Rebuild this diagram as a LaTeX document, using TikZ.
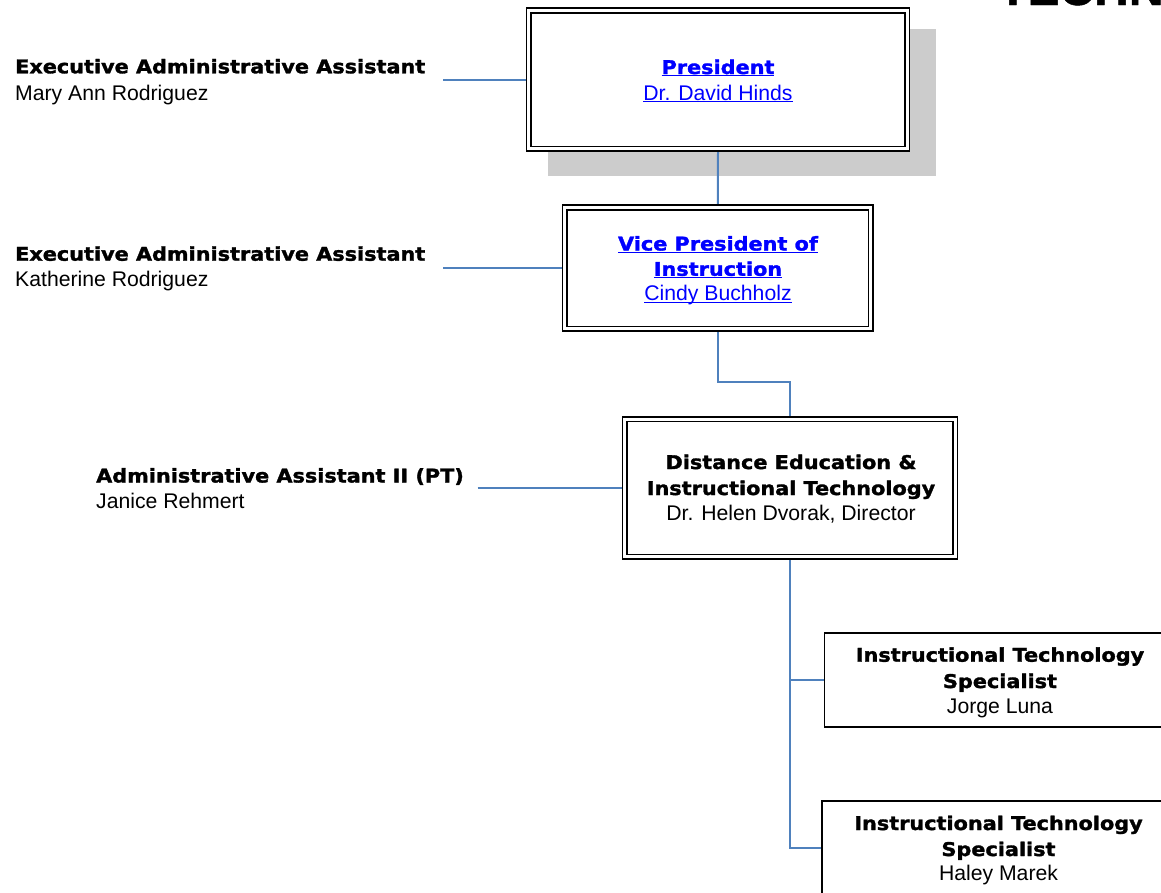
\documentclass[tikz,border=0pt]{standalone}
\usepackage{fontspec}
\setmainfont{Liberation Sans}
\newfontfamily\blk[FakeStretch=1.1,FakeBold=1.6]{DejaVu Sans Bold}
\newfontfamily\ttl[FakeBold=1]{Liberation Sans Bold}
\definecolor{conncol}{RGB}{79,129,189}
\definecolor{linkblue}{RGB}{0,0,255}
\definecolor{shadowgray}{RGB}{204,204,204}
\newsavebox\ulbox
\newcommand\myul[1]{\sbox\ulbox{#1}\rlap{\rule[-2.4pt]{\wd\ulbox}{1.4pt}}\usebox\ulbox}
\newcommand\bt{\blk\fontsize{18.9pt}{22pt}\selectfont}
\newcommand\rt{\fontsize{21.2pt}{25pt}\selectfont}
\pgfdeclarelayer{shadowlayer}
\pgfdeclarelayer{connlayer}
\pgfsetlayers{shadowlayer,connlayer,main}
\begin{document}
\begin{tikzpicture}[x=1pt,y=-1pt,
  conn/.style={draw=conncol, line width=2pt},
  dbox/.style={draw=black, double=white, line width=1.6pt, double distance=3pt, fill=white, inner sep=0pt},
  sbox/.style={draw=black, line width=1.6pt, fill=white, inner sep=0pt},
  bl/.style={font=\bt, anchor=base, inner sep=0pt},
  rl/.style={font=\rt, anchor=base, inner sep=0pt}]
\useasboundingbox (0,0) rectangle (1161,892);

% title (mostly above the page)
\node[anchor=base west, inner sep=0pt, font=\ttl\fontsize{48pt}{50pt}\selectfont] (title) at (998,5) {TECHN};

% shadow
\begin{pgfonlayer}{shadowlayer}
\fill[shadowgray] (548,29.3) rectangle (935.7,176);
\end{pgfonlayer}

% boxes
\node[dbox, minimum width=378.4pt, minimum height=138.5pt] (pres) at (718,79.65) {};
\node[dbox, minimum width=306.1pt, minimum height=121.2pt] (vp) at (717.85,268) {};
\node[dbox, minimum width=330.4pt, minimum height=137.8pt] (dist) at (790,488) {};
\node[sbox, minimum width=351pt, minimum height=94.1pt] (spec1) at (1000,679.85) {};
\node[sbox, minimum width=354pt, minimum height=94.2pt] (spec2) at (999,847.9) {};

% box texts
\node[bl, text=linkblue] (presT) at (718,74) {\myul{President}};
\node[rl, text=linkblue] (presN) at (718,100) {\myul{Dr. David Hinds}};
\node[bl, text=linkblue] (vpT1) at (718,250.5) {\myul{Vice President of}};
\node[bl, text=linkblue] (vpT2) at (718,275.8) {\myul{Instruction}};
\node[rl, text=linkblue] (vpN) at (718,300.5) {\myul{Cindy Buchholz}};
\node[bl] (distT1) at (791,469) {Distance Education \&};
\node[bl] (distT2) at (791,495) {Instructional Technology};
\node[rl] (distN) at (791,520) {Dr. Helen Dvorak, Director};
\node[bl] (s1T1) at (1000,661.7) {Instructional Technology};
\node[bl] (s1T2) at (1000,688) {Specialist};
\node[rl] (s1N) at (1000,713) {Jorge Luna};
\node[bl] (s2T1) at (998.5,830) {Instructional Technology};
\node[bl] (s2T2) at (998.5,856) {Specialist};
\node[rl] (s2N) at (998.5,880.7) {Haley Marek};

% left assistants
\node[bl, anchor=base west] (a1T) at (15,73.3) {Executive Administrative Assistant};
\node[rl, anchor=base west] (a1N) at (15,100) {Mary Ann Rodriguez};
\node[bl, anchor=base west] (a2T) at (15,260.7) {Executive Administrative Assistant};
\node[rl, anchor=base west] (a2N) at (15,286.7) {Katherine Rodriguez};
\node[bl, anchor=base west] (a3T) at (96,482.5) {Administrative Assistant II (PT)};
\node[rl, anchor=base west] (a3N) at (96,508) {Janice Rehmert};

% connectors
\coordinate (c1) at (443,80);
\coordinate (c2) at (443,267.7);
\coordinate (c3) at (477.6,487.7);
\coordinate (j1) at (0,381.7);
\begin{pgfonlayer}{connlayer}
\draw[conn] (c1) -- (c1 -| pres.west);
\draw[conn] (c2) -- (c2 -| vp.west);
\draw[conn] (c3) -- (c3 -| dist.west);
\draw[conn] (pres.south) -- (vp.north);
\draw[conn] (vp.south) |- (j1 -| dist.north) -- (dist.north);
\draw[conn] (dist.south) |- (spec2.west);
\draw[conn] (dist.south |- spec1.west) -- (spec1.west);
\end{pgfonlayer}
\end{tikzpicture}
\end{document}
